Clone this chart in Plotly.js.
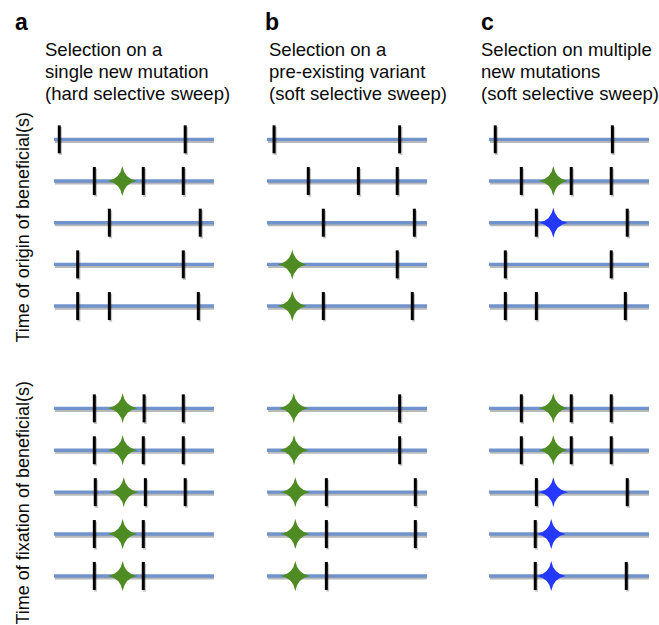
<!DOCTYPE html>
<html><head><meta charset="utf-8">
<script src="https://cdn.plot.ly/plotly-3.0.1.min.js"></script>
<style>html,body{margin:0;padding:0;background:#fff;} #chart{width:659px;height:625px;}</style>
</head><body><div id="chart"></div>
<script>
// ---------------- data ----------------
const panelLetters = ['a', 'b', 'c'];
const panelTitles = [
  ['Selection on a', 'single new mutation', '(hard selective sweep)'],
  ['Selection on a', 'pre-existing variant', '(soft selective sweep)'],
  ['Selection on multiple', 'new mutations', '(soft selective sweep)']
];
const timeLabels = ['Time of origin of beneficial(s)', 'Time of fixation of beneficial(s)'];
const rows = [1, 2, 3, 4, 5];   // haplotypes (chromosomes) per panel
// neutral variant positions along each chromosome (0-100), one list per row

// a: hard sweep
const hardOriginNeutral = [[3.3, 82], [25.2, 55.8, 80.8], [34.6, 91.4], [14.8, 80.8], [14.8, 34.6, 90.2]];
const hardOriginBenRow = [2];
const hardOriginBenPos = [42.7];
const hardOriginBenType = ['A'];
const hardFixNeutral = [[25.2, 56.3, 80.8], [25.2, 55.8, 80.8], [25.8, 57.1, 82], [25.2, 55.8], [25.2, 55.8]];
const hardFixBenRow = [1, 2, 3, 4, 5];
const hardFixBenPos = [42.9, 42.9, 43.6, 42.9, 42.9];
const hardFixBenType = ['A', 'A', 'A', 'A', 'A'];

// b: soft sweep from standing variation
const standingOriginNeutral = [[4.4, 82.9], [25.8, 57.1, 81.4], [35.2, 92.1], [81.4], [35.2, 90.8]];
const standingOriginBenRow = [4, 5];
const standingOriginBenPos = [15.8, 15.8];
const standingOriginBenType = ['A', 'A'];
const standingFixNeutral = [[82.9], [82.9], [37.1, 92.7], [37.1, 92.7], [37.1]];
const standingFixBenRow = [1, 2, 3, 4, 5];
const standingFixBenPos = [16.7, 16.9, 17.7, 17.7, 17.7];
const standingFixBenType = ['A', 'A', 'A', 'A', 'A'];

// c: soft sweep from multiple new mutations
const multiOriginNeutral = [[3.9, 77.1], [20.2, 51.4, 76.4], [29.6, 86.4], [10.2, 76.4], [10.2, 29.6, 85.2]];
const multiOriginBenRow = [2, 3];
const multiOriginBenPos = [40.2, 40.2];
const multiOriginBenType = ['A', 'B'];
const multiFixNeutral = [[20.2, 51.4, 76.4], [20.2, 51.4, 76.4], [29.6, 86.4], [28.9], [28.9, 85.8]];
const multiFixBenRow = [1, 2, 3, 4, 5];
const multiFixBenPos = [40.2, 40.2, 40.2, 38.9, 38.9];
const multiFixBenType = ['A', 'A', 'B', 'B', 'B'];

// ---------------- build ----------------
const benColors = {A: '#4e8b22', B: '#2438ff'};
const panels = [
  {n: hardOriginNeutral, r: hardOriginBenRow, p: hardOriginBenPos, t: hardOriginBenType},
  {n: standingOriginNeutral, r: standingOriginBenRow, p: standingOriginBenPos, t: standingOriginBenType},
  {n: multiOriginNeutral, r: multiOriginBenRow, p: multiOriginBenPos, t: multiOriginBenType},
  {n: hardFixNeutral, r: hardFixBenRow, p: hardFixBenPos, t: hardFixBenType},
  {n: standingFixNeutral, r: standingFixBenRow, p: standingFixBenPos, t: standingFixBenType},
  {n: multiFixNeutral, r: multiFixBenRow, p: multiFixBenPos, t: multiFixBenType}
];

const W = 659, H = 625;
const colPx = [[54, 214], [267, 427], [489, 649]];
const grpPx = [[118.5, 326.9], [387.4, 596.9]];
// four-pointed star glyph (pixel units around its anchor)
const STAR = 'M -14.5 0 Q -2.2 2.2 0 15 Q 2.2 2.2 14.5 0 Q 2.2 -2.2 0 -15 Q -2.2 -2.2 -14.5 0 Z';

const traces = [];
const layout = {
  width: W, height: H, margin: {l: 0, r: 0, t: 0, b: 0},
  paper_bgcolor: '#fff', plot_bgcolor: '#fff', showlegend: false,
  annotations: [], shapes: []
};
const font = 'Liberation Sans, Arial, Helvetica, sans-serif';

panels.forEach((pn, i) => {
  const k = i + 1;
  const xa = 'x' + (k === 1 ? '' : k), ya = 'y' + (k === 1 ? '' : k);
  const col = i % 3, grp = Math.floor(i / 3);
  layout['xaxis' + (k === 1 ? '' : k)] = {
    domain: [colPx[col][0] / W, colPx[col][1] / W], range: [0, 100],
    visible: false, fixedrange: true, anchor: ya
  };
  layout['yaxis' + (k === 1 ? '' : k)] = {
    domain: [1 - grpPx[grp][1] / H, 1 - grpPx[grp][0] / H], range: [5.5, 0.5],
    visible: false, fixedrange: true, anchor: xa
  };
  // chromosome lines (shadow + line)
  const lx = [], ly = [], sx = [], sy = [];
  rows.forEach(r => { lx.push(0, 100, null); ly.push(r, r, null); sx.push(0.6, 100.6, null); sy.push(r + 0.05, r + 0.05, null); });
  traces.push({x: sx, y: sy, xaxis: xa, yaxis: ya, mode: 'lines', line: {color: 'rgba(0,0,0,0.28)', width: 3}, hoverinfo: 'skip', cliponaxis: false});
  traces.push({x: lx, y: ly, xaxis: xa, yaxis: ya, mode: 'lines', line: {color: '#7093cb', width: 3.4}, hoverinfo: 'skip', cliponaxis: false});
  // neutral variants
  const tx = [], ty = [];
  pn.n.forEach((list, ri) => list.forEach(v => { tx.push(v); ty.push(rows[ri]); }));
  traces.push({x: tx.map(v => v + 0.8), y: ty.map(v => v + 0.04), xaxis: xa, yaxis: ya, mode: 'markers',
    marker: {symbol: 'line-ns', size: 20, line: {color: 'rgba(0,0,0,0.22)', width: 3}}, hoverinfo: 'skip', cliponaxis: false});
  traces.push({x: tx, y: ty, xaxis: xa, yaxis: ya, mode: 'markers',
    marker: {symbol: 'line-ns', size: 20, line: {color: '#000', width: 3}}, cliponaxis: false});
  // beneficial mutations (star glyphs anchored at data coordinates)
  pn.p.forEach((pos, j) => {
    layout.shapes.push({type: 'path', xref: xa, yref: ya, xsizemode: 'pixel', ysizemode: 'pixel',
      xanchor: pos, yanchor: pn.r[j], path: STAR, fillcolor: benColors[pn.t[j]], line: {width: 0}, layer: 'above'});
  });
});

// text
const letterX = [13, 263, 479];
const titleX = [43, 267, 479];
const titleY = [50, 72, 94];
panelLetters.forEach((L, c) => {
  layout.annotations.push({text: '<b>' + L + '</b>', xref: 'paper', yref: 'paper', x: letterX[c] / W, y: 1 - 22 / H,
    xanchor: 'left', yanchor: 'middle', showarrow: false, font: {family: font, size: 23, color: '#000'}});
  panelTitles[c].forEach((t, j) => {
    layout.annotations.push({text: t, xref: 'paper', yref: 'paper', x: titleX[c] / W, y: 1 - titleY[j] / H,
      xanchor: 'left', yanchor: 'middle', showarrow: false, font: {family: font, size: 18.5, color: '#0a0a0a'}});
  });
});
const labelY = [228, 503];
timeLabels.forEach((t, g) => {
  layout.annotations.push({text: t, xref: 'paper', yref: 'paper', x: 22.5 / W, y: 1 - labelY[g] / H,
    xanchor: 'center', yanchor: 'middle', textangle: -90, showarrow: false, font: {family: font, size: 18, color: '#0a0a0a'}});
});

Plotly.newPlot('chart', traces, layout, {staticPlot: true, displayModeBar: false});
</script>
</body></html>
